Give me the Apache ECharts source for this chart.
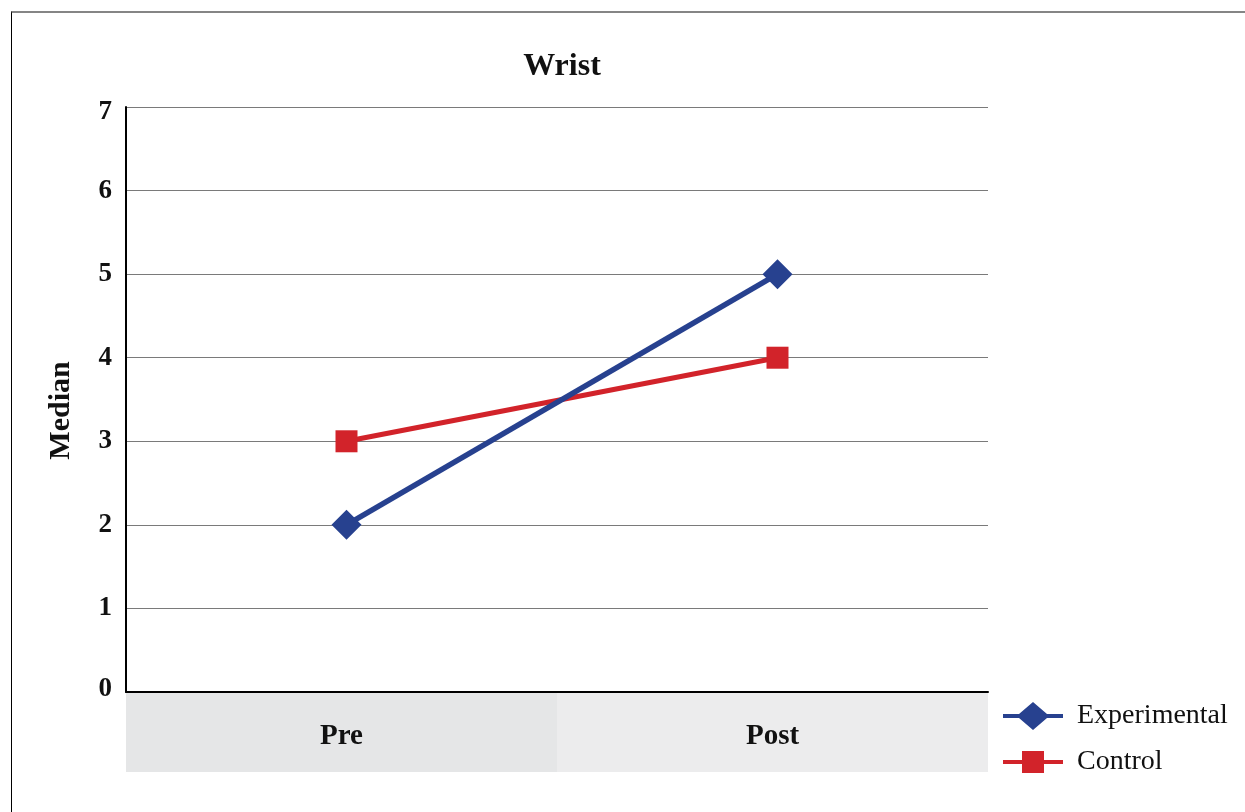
<!DOCTYPE html>
<html>
<head>
<meta charset="utf-8">
<script src="https://cdn.jsdelivr.net/npm/echarts@6/dist/echarts.min.js"></script>
<style>
  html, body { margin: 0; padding: 0; background: #fff; }
  #frame { position: absolute; left: 11px; top: 11px; width: 1234px; height: 801px;
           border-top: 2px solid #858585; border-left: 1px solid #000; box-sizing: border-box; }
  #chart { position: absolute; left: 0; top: 0; width: 1245px; height: 812px; }
</style>
</head>
<body>
<div id="frame"></div>
<div id="chart"></div>
<script>
// Median scores before and after, by group
const categories = ['Pre', 'Post'];
const experimental = [2, 5];
const control = [3, 4];
const yTicks = [0, 1, 2, 3, 4, 5, 6, 7];

const serif = 'Liberation Serif';
const yMin = yTicks[0];
const yMax = yTicks[yTicks.length - 1];
const tickFont = { fontFamily: serif, fontWeight: 'bold', fontSize: 27, color: '#111' };

// Legend icons: a short line with the series marker in its middle (60 x 30 box)
const diamondIcon = 'path://M0,13 H16 L30,1 L44,13 H60 V17 H44 L30,29 L16,17 H0 Z';
const squareIcon = 'path://M0,13 H19 V4 H41 V13 H60 V17 H41 V26 H19 V17 H0 Z';

const chart = echarts.init(document.getElementById('chart'));

chart.setOption({
  animation: false,
  title: {
    text: 'Wrist',
    left: 557, top: 46, textAlign: 'center',
    textStyle: { fontFamily: serif, fontWeight: 'bold', fontSize: 32, color: '#111' }
  },
  legend: {
    orient: 'vertical',
    left: 1003, top: 702, padding: 0,
    itemWidth: 60, itemHeight: 30, itemGap: 18,
    textStyle: { fontFamily: serif, fontSize: 28, color: '#111', padding: [0, 0, 0, 9] },
    data: [
      { name: 'Experimental', icon: diamondIcon },
      { name: 'Control', icon: squareIcon }
    ]
  },
  grid: [
    { left: 126, right: 257, top: 107, bottom: 120 },
    { left: 126, right: 257, top: 693, height: 79 },
    { left: 131, right: 252, top: 107, bottom: 120 }
  ],
  xAxis: [
    {
      gridIndex: 0, type: 'category', data: categories,
      axisLine: { lineStyle: { color: '#000', width: 2 } },
      axisTick: { show: false },
      axisLabel: { margin: 30, fontFamily: serif, fontWeight: 'bold', fontSize: 29, color: '#111' },
      z: 5
    },
    {
      gridIndex: 1, type: 'category', data: categories,
      axisLine: { show: false }, axisTick: { show: false }, axisLabel: { show: false },
      splitArea: { show: true, areaStyle: { color: ['#e5e6e7', '#ececed'] } }
    },
    {
      gridIndex: 2, type: 'category', data: categories, show: false
    }
  ],
  yAxis: [
    {
      gridIndex: 0, type: 'value', min: yMin, max: yMax, interval: 1,
      name: 'Median', nameLocation: 'middle', nameGap: 50, nameRotate: 90,
      nameTextStyle: { fontFamily: serif, fontWeight: 'bold', fontSize: 30, color: '#111', padding: [0, 0, 0, -22] },
      axisLine: { show: true, lineStyle: { color: '#000', width: 2 } },
      axisTick: { show: false },
      axisLabel: {
        margin: 14,
        ...tickFont,
        formatter: function (v) {
          if (v === yMax) return '{top|' + v + '}';
          if (v === yMin) return '{bottom|' + v + '}';
          return '{n|' + v + '}';
        },
        rich: {
          n: { ...tickFont },
          top: { ...tickFont, padding: [10, 0, 0, 0] },
          bottom: { ...tickFont, padding: [0, 0, 6, 0] }
        }
      },
      splitLine: { lineStyle: { color: '#7a7a7a', width: 1 } }
    },
    { gridIndex: 1, type: 'value', min: 0, max: 1, show: false },
    { gridIndex: 2, type: 'value', min: yMin, max: yMax, show: false }
  ],
  series: [
    {
      name: 'Experimental', type: 'line', xAxisIndex: 2, yAxisIndex: 2,
      data: experimental,
      symbol: 'diamond', symbolSize: 30,
      lineStyle: { color: '#27418f', width: 5.5 },
      itemStyle: { color: '#27418f' },
      z: 3
    },
    {
      name: 'Control', type: 'line', xAxisIndex: 2, yAxisIndex: 2,
      data: control,
      symbol: 'rect', symbolSize: 22,
      lineStyle: { color: '#d2232a', width: 5 },
      itemStyle: { color: '#d2232a' },
      z: 2
    }
  ]
});
</script>
</body>
</html>
